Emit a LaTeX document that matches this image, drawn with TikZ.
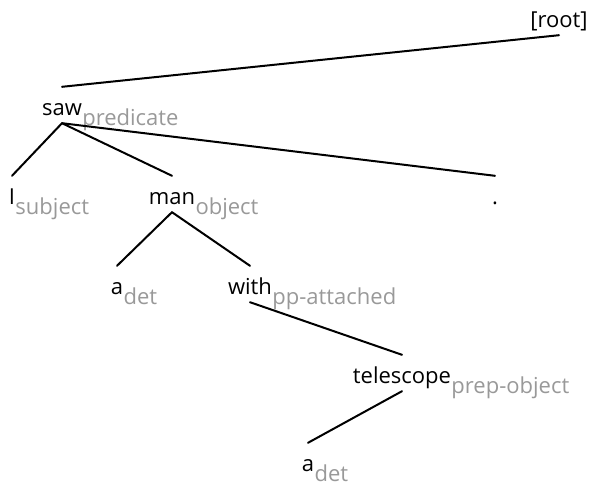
\documentclass[tikz,border=0pt]{standalone}
\usepackage{fontspec}
\setmainfont{Open Sans}
\tikzstyle{word} = [inner xsep=0pt, inner ysep=3pt, text height=25pt, text depth=5pt, font=\fontsize{22}{26}\selectfont]
\tikzstyle{rel}  = [inner sep=0pt, text=black!40, font=\fontsize{22}{26}\selectfont]
\newcommand{\deprel}[2]{\node[rel, anchor=base west] (#1-rel) at ([yshift=-10pt]#1.base east) {#2};}

\begin{document}
\begin{tikzpicture}[x=1pt, y=-1pt, arc/.style={line width=2pt, line cap=round}]
\useasboundingbox (0,0) rectangle (594,485);

% Define nodes
\node[word, anchor=base] (root)  at (559,27)  {[root]};
\node[word, anchor=base] (saw)   at (62,115)  {saw};
\node[word, anchor=base] (I)     at (12,204)  {I};
\node[word, anchor=base] (man)   at (172,204) {man};
\node[word, anchor=base] (dot)   at (495,204) {.};
\node[word, anchor=base] (a)     at (117,294) {a};
\node[word, anchor=base] (with)  at (250,294) {with};
\node[word, anchor=base] (tele)  at (402,383) {telescope};
\node[word, anchor=base] (a2)    at (308,471) {a};

% Labels
\deprel{saw}{predicate}
\deprel{I}{subject}
\deprel{man}{object}
\deprel{a}{det}
\deprel{with}{pp-attached}
\deprel{tele}{prep-object}
\deprel{a2}{det}

% Edges
\draw[arc] (root.south) -- (saw.north);
\foreach \d in {I, man, dot}
  \draw[arc] (saw.south) -- (\d.north);
\foreach \d in {a, with}
  \draw[arc] (man.south) -- (\d.north);
\draw[arc] (with.south) -- (tele.north);
\draw[arc] (tele.south) -- (a2.north);
\end{tikzpicture}
\end{document}
